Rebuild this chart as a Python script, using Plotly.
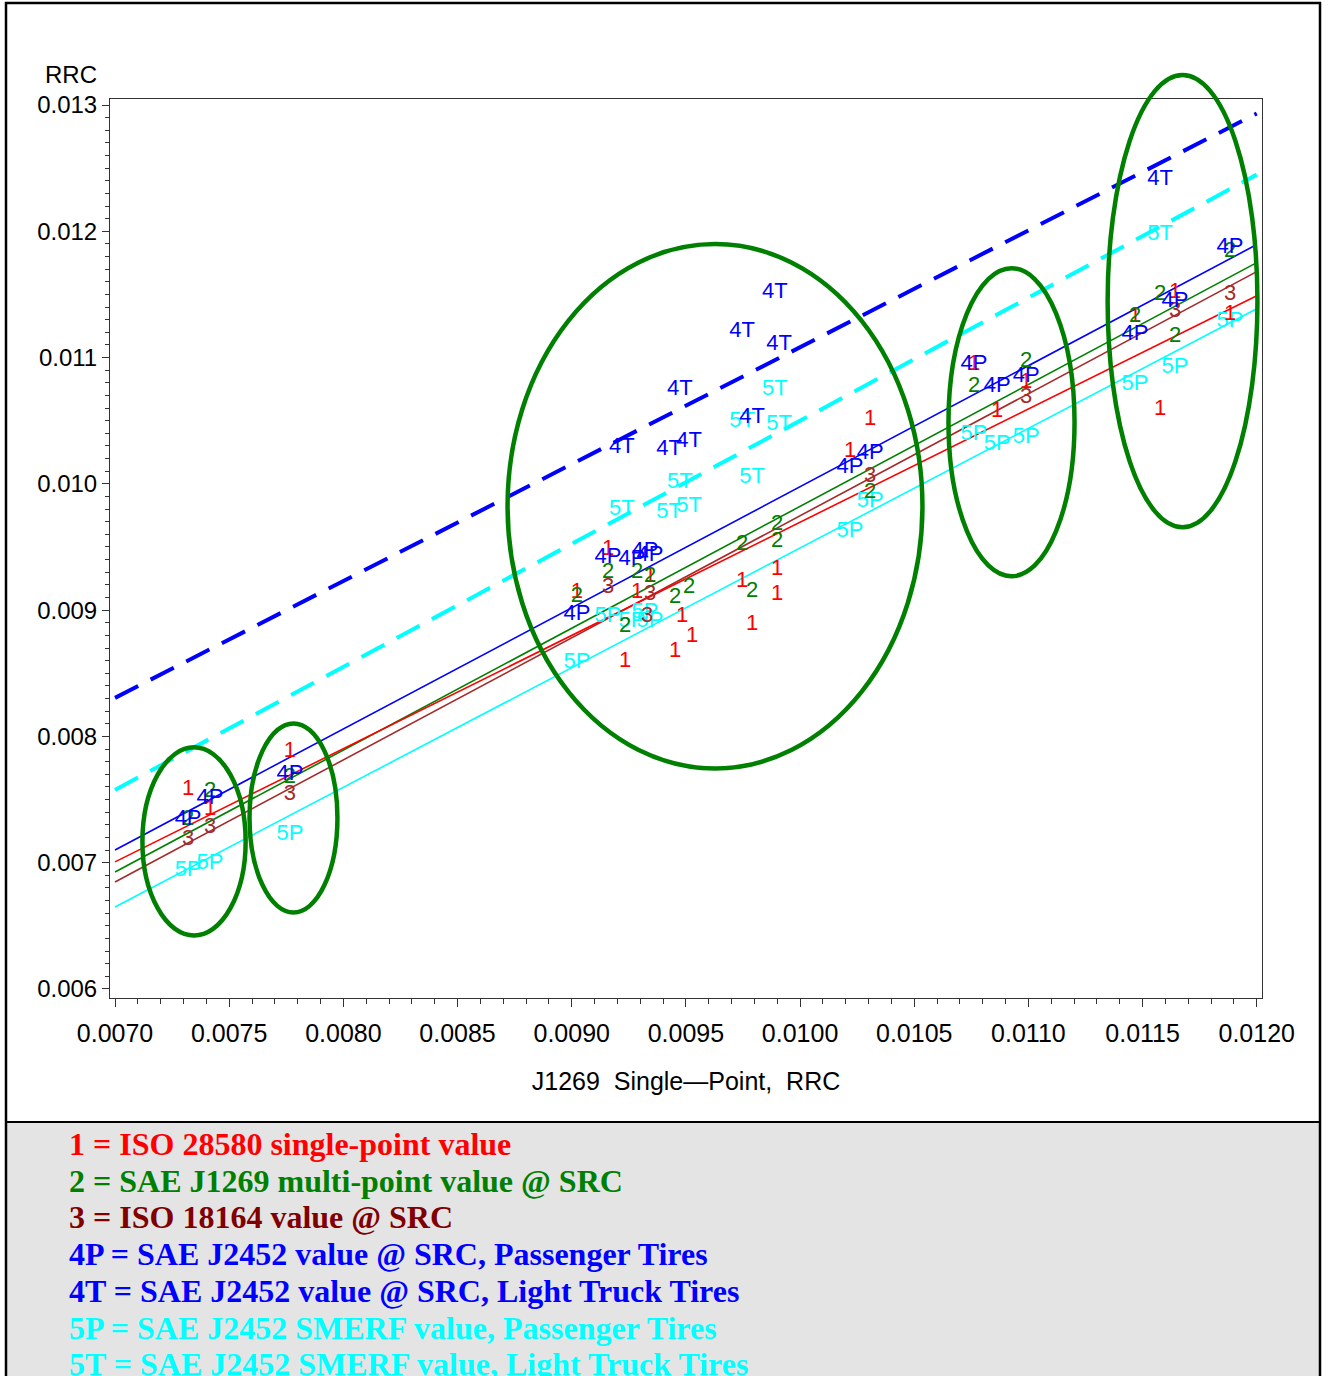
import plotly.graph_objects as go

# ---------------- data ----------------
S1_X = [0.00732, 0.007416, 0.007766, 0.009159, 0.009023, 0.009286, 0.009343, 0.009483, 0.009527,
        0.009453, 0.009234, 0.009746, 0.009899, 0.009899, 0.00979, 0.010307, 0.010219, 0.010762,
        0.010863, 0.01099, 0.011577, 0.011642, 0.011467, 0.011883]
S1_Y = [0.007576, 0.007417, 0.007877, 0.009478, 0.009137, 0.009137, 0.009264, 0.008947, 0.008788,
        0.008669, 0.00859, 0.009224, 0.009319, 0.009121, 0.008884, 0.010508, 0.010255, 0.010944,
        0.010571, 0.010801, 0.010587, 0.011514, 0.011324, 0.01134]

S2_X = [0.007416, 0.00732, 0.007766, 0.009023, 0.009159, 0.009286, 0.009343, 0.009453, 0.009514,
        0.009234, 0.009746, 0.009899, 0.009899, 0.00979, 0.010307, 0.010762, 0.01099, 0.011577,
        0.011467, 0.011642, 0.011883]
S2_Y = [0.00756, 0.00734, 0.007671, 0.009105, 0.009296, 0.009296, 0.009264, 0.009097, 0.009176,
        0.008868, 0.009517, 0.009676, 0.009541, 0.009145, 0.009929, 0.01077, 0.010967, 0.011498,
        0.011324, 0.011165, 0.011839]

S3_X = [0.007416, 0.00732, 0.007766, 0.009159, 0.009343, 0.00933, 0.010307, 0.01099, 0.011642, 0.011883]
S3_Y = [0.007275, 0.00718, 0.007536, 0.009176, 0.009121, 0.008947, 0.010056, 0.010682, 0.011364, 0.011498]

S4P_X = [0.007416, 0.00732, 0.007766, 0.009159, 0.009264, 0.009321, 0.009343, 0.009023, 0.010219,
         0.010307, 0.010762, 0.010863, 0.01099, 0.011642, 0.011467, 0.011883]
S4P_Y = [0.007512, 0.007338, 0.007695, 0.009414, 0.009398, 0.009462, 0.00943, 0.008963, 0.010128,
         0.010239, 0.010944, 0.01077, 0.010849, 0.011443, 0.011181, 0.011871]

S4T_X = [0.00989, 0.009746, 0.009908, 0.009474, 0.00979, 0.00922, 0.009426, 0.009514, 0.011577]
S4T_Y = [0.011514, 0.011205, 0.011102, 0.010746, 0.010524, 0.010286, 0.01027, 0.010334, 0.01241]

S5P_X = [0.00732, 0.007416, 0.007766, 0.009159, 0.009264, 0.009321, 0.009343, 0.009023, 0.010219,
         0.010307, 0.010762, 0.010863, 0.01099, 0.011467, 0.011642, 0.011883]
S5P_Y = [0.006934, 0.00699, 0.007219, 0.008947, 0.008908, 0.008979, 0.008908, 0.008582, 0.00962,
         0.009858, 0.010389, 0.01031, 0.010365, 0.010785, 0.01092, 0.011284]

S5T_X = [0.00989, 0.009746, 0.009908, 0.009474, 0.00979, 0.00922, 0.009426, 0.009514, 0.011577]
S5T_Y = [0.010746, 0.010492, 0.010468, 0.010008, 0.010048, 0.009795, 0.009771, 0.009818, 0.011974]

# regression lines, evaluated at both ends of the x range
FIT_X = [0.007, 0.012]
FIT_4T = [0.008305, 0.012933]
FIT_5T = [0.007576, 0.012449]
FIT_4P = [0.0071, 0.011895]
FIT_2 = [0.006926, 0.011752]
FIT_1 = [0.007006, 0.01149]
FIT_3 = [0.006847, 0.011681]
FIT_5P = [0.006649, 0.011387]

# grouping ellipses: (x0, x1, y0, y1) in data units
ELLIPSES = [
    (0.00712, 0.007572, 0.006423, 0.007913),
    (0.007589, 0.007974, 0.006605, 0.008103),
    (0.008719, 0.010536, 0.007746, 0.011899),
    (0.01065, 0.011202, 0.009268, 0.011708),
    (0.011347, 0.012003, 0.009656, 0.013238),
]

X_TICKS = [0.007, 0.0075, 0.008, 0.0085, 0.009, 0.0095, 0.01, 0.0105, 0.011, 0.0115, 0.012]
X_TICK_LABELS = ["0.0070", "0.0075", "0.0080", "0.0085", "0.0090", "0.0095", "0.0100",
                 "0.0105", "0.0110", "0.0115", "0.0120"]
Y_TICKS = [0.006, 0.007, 0.008, 0.009, 0.010, 0.011, 0.012, 0.013]
Y_TICK_LABELS = ["0.006", "0.007", "0.008", "0.009", "0.010", "0.011", "0.012", "0.013"]

X_TITLE = "J1269  Single\u2014Point,  RRC"
Y_TITLE = "RRC"

LEGEND_LINES = [
    "1 = ISO 28580 single-point value",
    "2 = SAE J1269 multi-point value @ SRC",
    "3 = ISO 18164 value @ SRC",
    "4P = SAE J2452 value @ SRC, Passenger Tires",
    "4T = SAE J2452 value @ SRC, Light Truck Tires",
    "5P = SAE J2452 SMERF value, Passenger Tires",
    "5T = SAE J2452 SMERF value, Light Truck Tires",
]
LEGEND_COLORS = ["#FF0000", "#008000", "#800000", "#0000FF", "#0000FF", "#00FFFF", "#00FFFF"]

# ---------------- figure ----------------
X_RANGE = [0.006978, 0.012023]
Y_RANGE = [0.005928, 0.013048]
W, H = 1329, 1376
ML, MR, MT, MB = 110, 67, 99, 378
PW, PH = W - ML - MR, H - MT - MB

def px_x(p):
    return (p - ML) / PW

def px_y(p):
    return (H - MB - p) / PH

def data_to_paper_y(v):
    return (v - Y_RANGE[0]) / (Y_RANGE[1] - Y_RANGE[0])

BLUE, CYAN, GREEN, RED, BROWN = "#0000FF", "#00FFFF", "#008000", "#FF0000", "#A52A2A"
SANS = "Liberation Sans, Arial, sans-serif"

fig = go.Figure()

lines = [
    (FIT_4T, BLUE, 4, "26px,14px"),
    (FIT_5T, CYAN, 4, "26px,14px"),
    (FIT_4P, BLUE, 1.6, "solid"),
    (FIT_2, GREEN, 1.6, "solid"),
    (FIT_3, BROWN, 1.6, "solid"),
    (FIT_1, RED, 1.6, "solid"),
    (FIT_5P, CYAN, 1.6, "solid"),
]
for ys, col, w, dash in lines:
    fig.add_trace(go.Scatter(x=FIT_X, y=ys, mode="lines",
                             line=dict(color=col, width=w, dash=dash),
                             showlegend=False, hoverinfo="skip"))

series = [
    (S5P_X, S5P_Y, "5P", CYAN),
    (S5T_X, S5T_Y, "5T", CYAN),
    (S1_X, S1_Y, "1", RED),
    (S2_X, S2_Y, "2", GREEN),
    (S3_X, S3_Y, "3", BROWN),
    (S4P_X, S4P_Y, "4P", BLUE),
    (S4T_X, S4T_Y, "4T", BLUE),
]
for xs, ys, lab, col in series:
    fig.add_trace(go.Scatter(x=xs, y=ys, mode="text", text=[lab] * len(xs),
                             textposition="middle center",
                             textfont=dict(family=SANS, size=22, color=col),
                             showlegend=False, name=lab, cliponaxis=False))

shapes = []
for x0, x1, y0, y1 in ELLIPSES:
    shapes.append(dict(type="circle", xref="x", yref="paper",
                       x0=x0, x1=x1, y0=data_to_paper_y(y0), y1=data_to_paper_y(y1),
                       line=dict(color=GREEN, width=4.5), layer="above"))

# grey legend panel and outer border
shapes.append(dict(type="rect", xref="paper", yref="paper",
                   x0=px_x(6), x1=px_x(1320), y0=px_y(1390), y1=px_y(1122),
                   fillcolor="#E4E4E4", line=dict(color="black", width=2), layer="below"))
shapes.append(dict(type="rect", xref="paper", yref="paper",
                   x0=px_x(6), x1=px_x(1320), y0=px_y(1390), y1=px_y(3),
                   fillcolor="rgba(0,0,0,0)", line=dict(color="black", width=2.5), layer="below"))

annotations = [
    dict(text=Y_TITLE, xref="paper", yref="paper", x=px_x(71), y=px_y(75),
         xanchor="center", yanchor="middle", showarrow=False,
         font=dict(family=SANS, size=24, color="black")),
]
for i, (t, c) in enumerate(zip(LEGEND_LINES, LEGEND_COLORS)):
    annotations.append(dict(text="<b>" + t + "</b>", xref="paper", yref="paper",
                            x=px_x(67), y=px_y(1144 + i * 36.7),
                            xanchor="left", yanchor="middle", showarrow=False,
                            font=dict(family="Liberation Serif, Times New Roman, serif",
                                      size=32, color=c)))

fig.update_layout(
    width=W, height=H,
    margin=dict(l=ML, r=MR, t=MT, b=MB),
    paper_bgcolor="white", plot_bgcolor="white",
    shapes=shapes, annotations=annotations,
    showlegend=False,
    xaxis=dict(range=X_RANGE, tickvals=X_TICKS, ticktext=X_TICK_LABELS,
               showgrid=False, zeroline=False, showline=True, mirror=True,
               linecolor="#333", linewidth=1, ticks="outside", ticklen=8,
               tickcolor="#333", ticklabelstandoff=5,
               tickfont=dict(family=SANS, size=25, color="black"),
               minor=dict(dtick=0.0001, tick0=0.007, ticks="outside", ticklen=5,
                          tickcolor="#333", showgrid=False),
               title=dict(text=X_TITLE, standoff=26,
                          font=dict(family=SANS, size=25, color="black"))),
    yaxis=dict(range=Y_RANGE, tickvals=Y_TICKS, ticktext=Y_TICK_LABELS,
               showgrid=False, zeroline=False, showline=True, mirror=True,
               linecolor="#333", linewidth=1, ticks="outside", ticklen=7,
               tickcolor="#333",
               tickfont=dict(family=SANS, size=24, color="black"),
               minor=dict(dtick=0.0001, tick0=0.006, ticks="outside", ticklen=4,
                          tickcolor="#333", showgrid=False)),
)

fig.write_html("out.html")
